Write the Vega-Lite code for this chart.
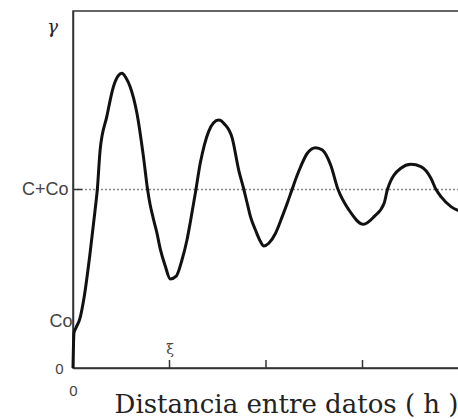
{
  "$schema": "https://vega.github.io/schema/vega-lite/v6.json",
  "width": 386,
  "height": 357,
  "autosize": "none",
  "padding": {"left": 73, "top": 11, "right": 0, "bottom": 51},
  "background": "white",
  "config": {"view": {"stroke": "#333", "strokeWidth": 1.5}},
  "encoding": {
    "y": {
      "field": "g",
      "type": "quantitative",
      "scale": {"domain": [0, 2], "nice": false},
      "axis": {
        "values": [0, 0.26, 1],
        "labelExpr": "datum.value == 0 ? '0' : datum.value == 1 ? 'C+Co' : 'Co'",
        "grid": false,
        "domainColor": "#333",
        "domainWidth": 1.5,
        "ticks": false,
        "labelPadding": {"condition": [{"test": "datum.value == 0", "value": 10}, {"test": "datum.value == 1", "value": 5}], "value": 1},
        "labelFont": "Liberation Sans",
        "labelFontSize": {"condition": {"test": "datum.value == 0", "value": 15}, "value": 18},
        "labelColor": "#444",
        "title": "γ",
        "titleAngle": 0,
        "titleX": -21,
        "titleY": 16,
        "titleAlign": "center",
        "titleBaseline": "middle",
        "titleFont": "DejaVu Serif",
        "titleFontStyle": "italic",
        "titleFontWeight": "normal",
        "titleFontSize": 18,
        "titleColor": "#222"
      }
    },
    "x": {
      "field": "h",
      "type": "quantitative",
      "scale": {"domain": [0, 4], "nice": false},
      "axis": {
        "values": [0, 1],
        "labelExpr": "datum.value == 0 ? '0' : 'ξ'",
        "grid": false,
        "domainColor": "#333",
        "domainWidth": 1.5,
        "ticks": false,
        "labelFlush": false,
        "labelBaseline": "top",
        "labelPadding": {"condition": {"test": "datum.value == 1", "value": -26}, "value": 15},
        "labelFont": {"condition": {"test": "datum.value == 1", "value": "DejaVu Serif"}, "value": "Liberation Sans"},
        "labelFontSize": {"condition": {"test": "datum.value == 1", "value": 14}, "value": 15},
        "labelColor": "#444",
        "title": "Distancia entre datos ( h )",
        "titleFont": "DejaVu Serif",
        "titleFontSize": 26,
        "titleFontWeight": "normal",
        "titleColor": "#222",
        "titleX": 385,
        "titleY": 44,
        "titleAlign": "right",
        "titleBaseline": "alphabetic"
      }
    }
  },
  "layer": [
    {
      "data": {"values": [{"g": 1}]},
      "mark": {"type": "rule", "color": "#888", "strokeDash": [2, 2], "strokeWidth": 1.5},
      "encoding": {"x": null}
    },
    {
      "data": {"values": [{"h": 0, "g": 1}]},
      "mark": {"type": "tick", "orient": "horizontal", "size": 9, "thickness": 1.5, "xOffset": 4.5, "color": "#333", "opacity": 1}
    },
    {
      "data": {"values": [{"h": 1, "g": 0}, {"h": 2, "g": 0}, {"h": 3, "g": 0}]},
      "mark": {"type": "tick", "orient": "vertical", "size": 8, "thickness": 1.5, "yOffset": -4, "color": "#333", "opacity": 1}
    },
    {
      "data": {
        "values": [
          {"h": 0, "g": 0},
          {"h": 0.01, "g": 0.196},
          {"h": 0.03, "g": 0.224},
          {"h": 0.073, "g": 0.28},
          {"h": 0.114, "g": 0.392},
          {"h": 0.177, "g": 0.644},
          {"h": 0.229, "g": 0.885},
          {"h": 0.252, "g": 1.0},
          {"h": 0.281, "g": 1.221},
          {"h": 0.35, "g": 1.408},
          {"h": 0.419, "g": 1.576},
          {"h": 0.468, "g": 1.636},
          {"h": 0.506, "g": 1.651},
          {"h": 0.55, "g": 1.625},
          {"h": 0.592, "g": 1.576},
          {"h": 0.662, "g": 1.429},
          {"h": 0.73, "g": 1.184},
          {"h": 0.772, "g": 1.003},
          {"h": 0.8, "g": 0.913},
          {"h": 0.831, "g": 0.84},
          {"h": 0.87, "g": 0.756},
          {"h": 0.904, "g": 0.667},
          {"h": 0.956, "g": 0.571},
          {"h": 1.008, "g": 0.499},
          {"h": 1.07, "g": 0.515},
          {"h": 1.129, "g": 0.605},
          {"h": 1.181, "g": 0.717},
          {"h": 1.216, "g": 0.818},
          {"h": 1.268, "g": 0.98},
          {"h": 1.319, "g": 1.148},
          {"h": 1.361, "g": 1.249},
          {"h": 1.405, "g": 1.324},
          {"h": 1.455, "g": 1.373},
          {"h": 1.51, "g": 1.389},
          {"h": 1.569, "g": 1.367},
          {"h": 1.649, "g": 1.289},
          {"h": 1.717, "g": 1.109},
          {"h": 1.769, "g": 1.003},
          {"h": 1.805, "g": 0.923},
          {"h": 1.839, "g": 0.848},
          {"h": 1.891, "g": 0.773},
          {"h": 1.943, "g": 0.708},
          {"h": 1.977, "g": 0.683},
          {"h": 2.029, "g": 0.699},
          {"h": 2.099, "g": 0.755},
          {"h": 2.168, "g": 0.848},
          {"h": 2.22, "g": 0.923},
          {"h": 2.272, "g": 1.003},
          {"h": 2.324, "g": 1.081},
          {"h": 2.358, "g": 1.126},
          {"h": 2.428, "g": 1.203},
          {"h": 2.514, "g": 1.234},
          {"h": 2.584, "g": 1.221},
          {"h": 2.67, "g": 1.137},
          {"h": 2.746, "g": 1.001},
          {"h": 2.86, "g": 0.885},
          {"h": 3.01, "g": 0.805},
          {"h": 3.12, "g": 0.848},
          {"h": 3.224, "g": 0.923},
          {"h": 3.259, "g": 1.001},
          {"h": 3.397, "g": 1.119},
          {"h": 3.501, "g": 1.141},
          {"h": 3.605, "g": 1.128},
          {"h": 3.709, "g": 1.063},
          {"h": 3.761, "g": 1.001},
          {"h": 3.813, "g": 0.96},
          {"h": 3.917, "g": 0.904},
          {"h": 4.0, "g": 0.88}
        ]
      },
      "mark": {"type": "line", "color": "#111", "strokeWidth": 3, "interpolate": "monotone"}
    }
  ]
}
